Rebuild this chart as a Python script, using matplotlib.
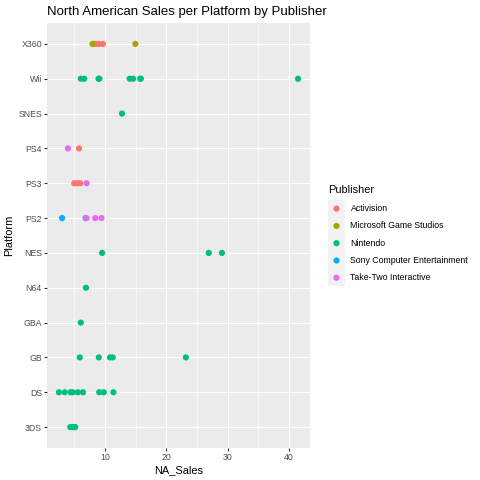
import matplotlib
matplotlib.use("Agg")
import matplotlib.pyplot as plt

# ---------------------------------------------------------------------------
# Data (in drawing order)
# ---------------------------------------------------------------------------
platform = [
    "Wii", "NES", "Wii", "Wii", "GB", "GB", "DS", "Wii", "Wii", "NES",
    "DS", "DS", "GB", "Wii", "Wii", "X360", "PS3", "PS2", "SNES", "DS",
    "DS", "GB", "NES", "PS2", "GBA", "DS", "DS", "PS2", "X360", "GB",
    "3DS", "PS4", "X360", "DS", "PS3", "X360", "X360", "PS3", "PS2", "Wii",
    "PS3", "DS", "3DS", "X360", "PS4", "3DS", "Wii", "PS2", "N64", "3DS",
]
na_sales = [
    41.49, 29.08, 15.85, 15.75, 11.27, 23.20, 11.38, 14.03, 14.59, 26.93,
    9.07, 9.81, 9.00, 8.94, 9.09, 14.97, 7.01, 9.43, 12.78, 4.75,
    6.42, 10.83, 9.54, 8.41, 6.06, 5.57, 3.44, 6.85, 9.03, 5.89,
    5.15, 5.77, 9.67, 4.40, 4.99, 8.25, 8.52, 5.54, 6.99, 6.62,
    5.98, 2.50, 5.03, 7.97, 3.96, 4.35, 6.06, 3.01, 6.91, 4.70,
]
publisher = [
    "Nintendo", "Nintendo", "Nintendo", "Nintendo", "Nintendo", "Nintendo",
    "Nintendo", "Nintendo", "Nintendo", "Nintendo",
    "Nintendo", "Nintendo", "Nintendo", "Nintendo", "Nintendo",
    "Microsoft Game Studios", "Take-Two Interactive", "Take-Two Interactive",
    "Nintendo", "Nintendo",
    "Nintendo", "Nintendo", "Nintendo", "Take-Two Interactive", "Nintendo",
    "Nintendo", "Nintendo", "Sony Computer Entertainment", "Activision", "Nintendo",
    "Nintendo", "Activision", "Activision", "Nintendo", "Activision",
    "Activision", "Activision", "Activision", "Take-Two Interactive", "Nintendo",
    "Activision", "Nintendo", "Nintendo", "Microsoft Game Studios",
    "Take-Two Interactive", "Nintendo", "Nintendo", "Sony Computer Entertainment",
    "Nintendo", "Nintendo",
]

platform_levels = ["3DS", "DS", "GB", "GBA", "N64", "NES", "PS2", "PS3",
                   "PS4", "SNES", "Wii", "X360"]
publisher_levels = ["Activision", "Microsoft Game Studios", "Nintendo",
                    "Sony Computer Entertainment", "Take-Two Interactive"]
publisher_colors = ["#F8766D", "#A3A500", "#00BF7D", "#00B0F6", "#E76BF3"]

# ---------------------------------------------------------------------------
# ggplot-like look
# ---------------------------------------------------------------------------
W = H = 480
PANEL_BG = "#EBEBEB"
TICK_COLOR = "#333333"
TEXT_COLOR = "#4D4D4D"
plt.rcParams["font.family"] = "Liberation Sans"

fig = plt.figure(figsize=(4.8, 4.8), dpi=100)

left, right, top, bottom = 47, 310, 23, 448
ax = fig.add_axes([left / W, 1 - bottom / H, (right - left) / W, (bottom - top) / H])
ax.set_facecolor(PANEL_BG)
for s in ax.spines.values():
    s.set_visible(False)

color_of = dict(zip(publisher_levels, publisher_colors))
ypos = [platform_levels.index(p) + 1 for p in platform]
cols = [color_of[p] for p in publisher]
ax.scatter(na_sales, ypos, c=cols, s=20, linewidths=0, zorder=3)

ax.margins(x=0.05)
ax.set_ylim(0.4, len(platform_levels) + 0.6)
ax.set_yticks(range(1, len(platform_levels) + 1))
ax.set_yticklabels(platform_levels)
ax.set_xticks([10, 20, 30, 40])
ax.set_xticks([5, 15, 25, 35], minor=True)

ax.grid(which="major", color="white", linewidth=0.8, zorder=0)
ax.grid(which="minor", axis="x", color="white", linewidth=0.4, zorder=0)
ax.set_axisbelow(True)
ax.tick_params(which="major", length=2.0, width=0.8, color=TICK_COLOR,
               labelsize=6.3, labelcolor=TEXT_COLOR, pad=1.6)
ax.tick_params(which="minor", length=0)

ax.set_xlabel("NA_Sales", fontsize=7.9, labelpad=2.5)
ax.set_ylabel("Platform", fontsize=7.9, labelpad=3)

fig.text(left / W, 1 - 15.5 / H, "North American Sales per Platform by Publisher",
         fontsize=9.5, ha="left", va="baseline")

# ---------------------------------------------------------------------------
# Legend (ggplot style: grey key strip, title above)
# ---------------------------------------------------------------------------
key_l, key_r, key_t = 328, 345, 200
key_h = 17.28
key_b = key_t + key_h * len(publisher_levels)
lax = fig.add_axes([key_l / W, 1 - key_b / H, (key_r - key_l) / W, (key_b - key_t) / H])
lax.set_facecolor("#F2F2F2")
lax.set_xlim(0, 1)
lax.set_ylim(len(publisher_levels), 0)
lax.set_xticks([])
lax.set_yticks([])
for s in lax.spines.values():
    s.set_visible(False)
key_y = [i + 0.5 for i in range(len(publisher_levels))]
lax.scatter([0.5] * len(key_y), key_y, c=publisher_colors, s=20, linewidths=0)
for yy, name in zip(key_y, publisher_levels):
    fig.text(350.5 / W, 1 - (key_t + yy * key_h) / H, name, fontsize=6.3,
             ha="left", va="center")
fig.text(key_l / W, 1 - 190 / H, "Publisher", fontsize=7.9, ha="left", va="center")

fig.savefig("out.png", dpi=100)
